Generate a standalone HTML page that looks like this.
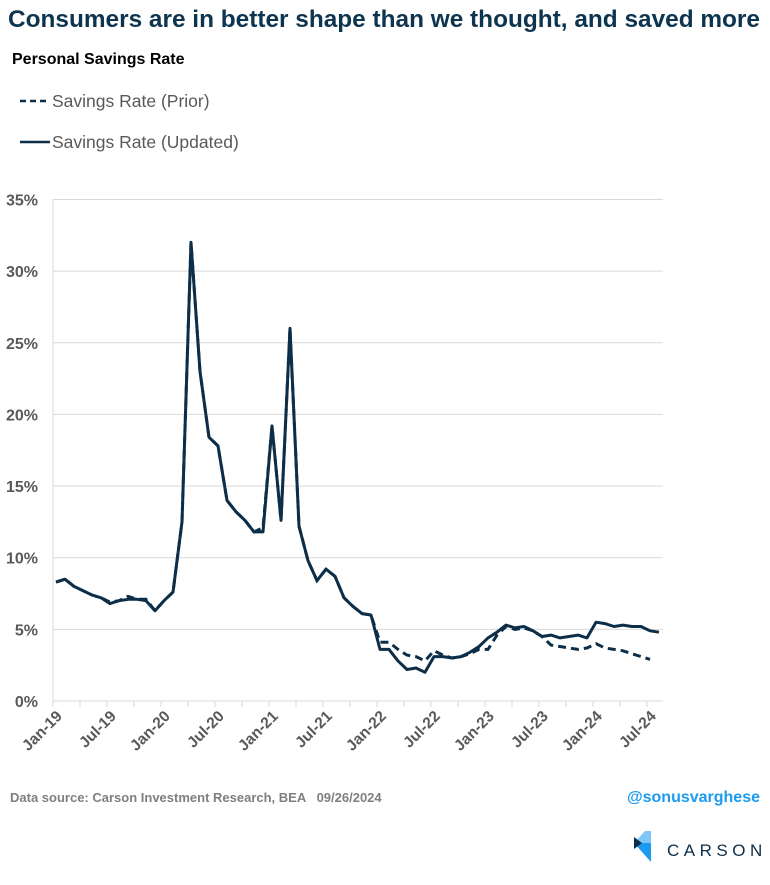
<!DOCTYPE html>
<html><head><meta charset="utf-8"><style>
body{margin:0;width:770px;height:880px;background:#fff;font-family:"Liberation Sans",sans-serif;overflow:hidden}
</style></head><body>
<svg width="770" height="880" xmlns="http://www.w3.org/2000/svg" font-family="Liberation Sans, sans-serif">
<text x="8" y="27" font-size="23.8" font-weight="bold" fill="#0d3550" textLength="752" lengthAdjust="spacingAndGlyphs">Consumers are in better shape than we thought, and saved more</text>
<text x="12" y="64" font-size="16" font-weight="bold" fill="#000">Personal Savings Rate</text>
<line x1="20" y1="101" x2="50" y2="101" stroke="#0d2e48" stroke-width="2.5" stroke-dasharray="6,4"/>
<text x="52" y="107" font-size="17.5" fill="#595959">Savings Rate (Prior)</text>
<line x1="20" y1="142" x2="50" y2="142" stroke="#0d2e48" stroke-width="2.5"/>
<text x="52" y="148" font-size="17.5" fill="#595959">Savings Rate (Updated)</text>
<g id="grid" stroke="#d9d9d9" stroke-width="1"></g>
<g id="ylab" font-size="16" font-weight="bold" fill="#595959" text-anchor="end"></g>
<g id="xlab" font-size="15.5" font-weight="bold" fill="#595959" text-anchor="end"></g>
<path id="prior" fill="none" stroke="#0d2e48" stroke-width="3" stroke-dasharray="8,5"/>
<path id="upd" fill="none" stroke="#0d2e48" stroke-width="3" stroke-linejoin="round"/>
<text x="10" y="802" font-size="13" font-weight="bold" fill="#7f7f7f" xml:space="preserve">Data source: Carson Investment Research, BEA   09/26/2024</text>
<text x="760" y="802" font-size="16" font-weight="bold" fill="#1a9bf0" text-anchor="end">@sonusvarghese</text>
<polygon points="645,831 651,831 651,843 634,843" fill="#7fc6f7"/>
<polygon points="634,843 651,843 651,862" fill="#1a9bf0"/>
<polygon points="634,837 642,843 634,849" fill="#0d2e48"/>
<text x="667" y="856" font-size="17" fill="#0d2e48" letter-spacing="4.5">CARSON</text>
</svg>
<script>
var U=[8.3,8.5,8.0,7.7,7.4,7.2,6.8,7.0,7.1,7.1,7.0,6.3,7.0,7.6,12.5,32.0,23.0,18.4,17.8,14.0,13.2,12.6,11.8,11.8,19.2,12.6,26.0,12.2,9.8,8.4,9.2,8.7,7.2,6.6,6.1,6.0,3.6,3.6,2.8,2.2,2.3,2.0,3.1,3.1,3.0,3.1,3.4,3.8,4.4,4.8,5.3,5.1,5.2,4.9,4.5,4.6,4.4,4.5,4.6,4.4,5.5,5.4,5.2,5.3,5.2,5.2,4.9,4.8];
var P=U.slice(0,36).concat([4.1,4.1,3.6,3.2,3.1,2.8,3.5,3.2,3.0,3.1,3.3,3.6,3.6,4.6,5.2,5.0,5.1,4.9,4.5,3.9,3.8,3.7,3.6,3.7,4.0,3.7,3.6,3.5,3.3,3.1,2.9]);
P[6]=6.9;P[8]=7.3;P[10]=7.1;P[23]=12.1;
var X=function(i){return 56+i*9.0},Y=function(v){return 701-v*14.33};
function path(a){return a.map(function(v,i){return (i?'L':'M')+X(i).toFixed(1)+','+Y(v).toFixed(1)}).join('')}
document.getElementById('upd').setAttribute('d',path(U));
document.getElementById('prior').setAttribute('d',path(P));
var ns='http://www.w3.org/2000/svg',g=document.getElementById('grid'),yl=document.getElementById('ylab'),xl=document.getElementById('xlab');
function el(p,t,a,txt){var e=document.createElementNS(ns,t);for(var k in a)e.setAttribute(k,a[k]);if(txt)e.textContent=txt;p.appendChild(e);}
for(var v=0;v<=35;v+=5){el(g,'line',{x1:53,x2:663,y1:Y(v),y2:Y(v)});el(yl,'text',{x:38,y:Y(v)+6},v+'%');}
el(g,'line',{x1:53,x2:53,y1:Y(35),y2:701});
var L=['Jan-19','Jul-19','Jan-20','Jul-20','Jan-21','Jul-21','Jan-22','Jul-22','Jan-23','Jul-23','Jan-24','Jul-24'];
for(var k=0;k<=22;k++){var x=53+k*27;el(g,'line',{x1:x,x2:x,y1:701,y2:707});}
L.forEach(function(s,j){var x=53+j*54+10;el(xl,'text',{x:x,y:717,transform:'rotate(-45 '+x+' 717)'},s);});
</script>
</body></html>
